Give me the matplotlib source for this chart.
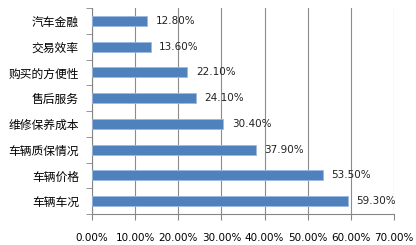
import matplotlib.pyplot as plt
import numpy as np

plt.rcParams['font.family'] = ['Noto Sans CJK SC', 'DejaVu Sans']

# Data (top to bottom)
categories = ["汽车金融", "交易效率", "购买的方便性", "售后服务",
              "维修保养成本", "车辆质保情况", "车辆价格", "车辆车况"]
values = [12.8, 13.6, 22.1, 24.1, 30.4, 37.9, 53.5, 59.3]
xticks = [0, 10, 20, 30, 40, 50, 60, 70]

fig = plt.figure(figsize=(4.16, 2.45), dpi=100)
ax = fig.add_axes([92 / 416, 1 - 214 / 245, 302 / 416, 206 / 245])

y = np.arange(len(categories))[::-1]
ax.barh(y, values, height=0.39, color='#4F81BD', edgecolor='#9DB9DE', linewidth=0.6, zorder=3)

for yi, v in zip(y, values):
    ax.text(v + 2.0, yi, f"{v:.2f}%", va='center', ha='left', fontsize=7.5,
            color='#222222', family=['DejaVu Sans'])

ax.set_xlim(0, 70)
ax.set_ylim(-0.5, len(categories) - 0.5)
ax.set_xticks(xticks)
ax.set_xticklabels([f"{t:.2f}%" for t in xticks], fontsize=7.5, family=['DejaVu Sans'])
ax.set_yticks(y)
ax.set_yticklabels(categories, fontsize=8.5)
ax.tick_params(axis='y', length=0, pad=9.5)
ax.set_yticks(np.arange(-0.5, len(categories), 1), minor=True)
ax.tick_params(axis='y', which='minor', length=4, color='#868686')
ax.tick_params(axis='x', length=4, color='#868686', pad=10)

ax.grid(axis='x', color='#8C8C8C', linewidth=0.8, zorder=0)
for side in ['top', 'right']:
    ax.spines[side].set_visible(False)
ax.spines['left'].set_color('#868686')
ax.spines['bottom'].set_color('#868686')

fig.savefig('out.png', dpi=100)
